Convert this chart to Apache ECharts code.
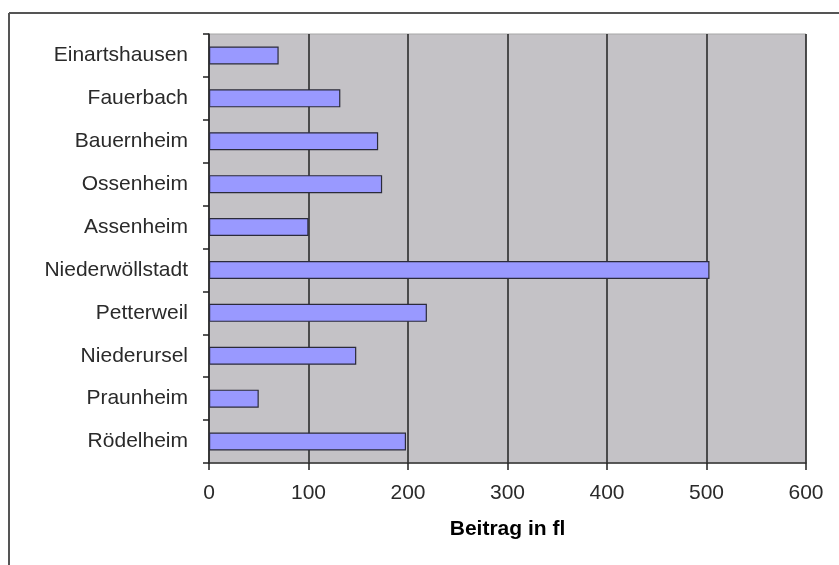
<!DOCTYPE html>
<html>
<head>
<meta charset="utf-8">
<script src="https://cdn.jsdelivr.net/npm/echarts@6/dist/echarts.min.js"></script>
<style>
  html, body { margin: 0; padding: 0; background: #fff; }
  #chart { width: 839px; height: 565px; }
</style>
</head>
<body>
<div id="chart"></div>
<script>
// Parishes, listed top to bottom
var orte = ['Einartshausen', 'Fauerbach', 'Bauernheim', 'Ossenheim', 'Assenheim',
            'Niederwöllstadt', 'Petterweil', 'Niederursel', 'Praunheim', 'Rödelheim'];
// Contribution per parish in florins
var beitrag = [70, 132, 170, 174, 100, 503, 219, 148, 50, 198];
// Value axis ticks
var xTicks = [0, 100, 200, 300, 400, 500, 600];
var axisTitle = 'Beitrag in fl';

var chart = echarts.init(document.getElementById('chart'), null, { renderer: 'canvas' });

var font = 'Liberation Sans, Arial, sans-serif';

chart.setOption({
  animation: false,
  backgroundColor: '#ffffff',
  graphic: [
    { type: 'line', shape: { x1: 9, y1: 13, x2: 839, y2: 13 },
      style: { stroke: '#555555', lineWidth: 2 }, silent: true },
    { type: 'line', shape: { x1: 9, y1: 13, x2: 9, y2: 565 },
      style: { stroke: '#555555', lineWidth: 2 }, silent: true }
  ],
  grid: {
    left: 209, top: 34, right: 33, bottom: 102,
    show: true,
    backgroundColor: '#c4c2c6',
    borderColor: '#a6a6a6',
    borderWidth: 1,
    containLabel: false
  },
  xAxis: {
    type: 'value',
    min: xTicks[0],
    max: xTicks[xTicks.length - 1],
    interval: xTicks[1] - xTicks[0],
    name: axisTitle,
    nameLocation: 'middle',
    nameGap: 56,
    nameTextStyle: { fontFamily: font, fontSize: 21, fontWeight: 'bold', color: '#000' },
    axisLine: { show: true, onZero: false, lineStyle: { color: '#333', width: 1.5 } },
    axisTick: { show: true, length: 7, lineStyle: { color: '#222', width: 1.5 } },
    axisLabel: { fontFamily: font, fontSize: 21, color: '#2a2a2a', margin: 20 },
    splitLine: { show: true, lineStyle: { color: '#222', width: 1.5 } }
  },
  yAxis: {
    type: 'category',
    data: orte,
    inverse: true,
    axisLine: { show: true, lineStyle: { color: '#333', width: 1.5 } },
    axisTick: { show: true, length: 6, lineStyle: { color: '#222', width: 1.5 } },
    axisLabel: { fontFamily: font, fontSize: 21, color: '#2a2a2a', margin: 21 },
    splitLine: { show: false }
  },
  series: [{
    type: 'bar',
    data: beitrag,
    barWidth: 18,
    itemStyle: { color: '#9999ff', borderColor: '#2b2b3a', borderWidth: 1.2 }
  }]
});
</script>
</body>
</html>
